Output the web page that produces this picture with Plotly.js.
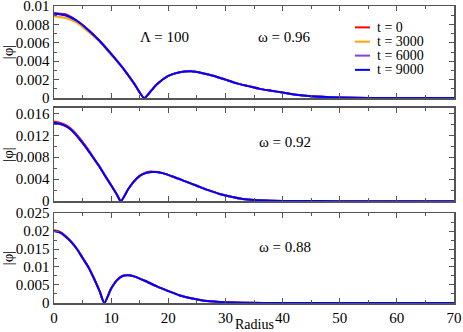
<!DOCTYPE html>
<html>
<head>
<meta charset="utf-8">
<script src="https://cdn.plot.ly/plotly-3.0.1.min.js"></script>
<style>
  html, body { margin: 0; padding: 0; background: #fff; }
  #plot { width: 463px; height: 332px; }
</style>
</head>
<body>
<div id="plot"></div>
<script>
// times shown in the legend
const times = ['t = 0', 't = 3000', 't = 6000', 't = 9000'];
const colors = ['#ff0000', '#ffa500', '#8c3fd8', '#0000ff'];

// omega = 0.96 (top panel)
const rTop = [0, 2, 4, 6, 8, 10, 12, 14, 15.8, 17, 18, 20, 22, 24, 26, 28, 30, 32, 34, 36, 38, 40, 42, 45, 50, 55, 60, 70];
const topT0    = [0.0092, 0.0091, 0.0084, 0.0074, 0.0062, 0.0048, 0.0033, 0.0016, 0, 0.0008, 0.0015, 0.0024, 0.0028, 0.0029, 0.0027, 0.0024, 0.0020, 0.0016, 0.0013, 0.0010, 0.0008, 0.0006, 0.0004, 0.0002, 0.00007, 0.00002, 0, 0];
const topT3000 = [0.0089, 0.0087, 0.0082, 0.0072, 0.0061, 0.0047, 0.0033, 0.0016, 0, 0.0008, 0.0015, 0.0024, 0.0028, 0.0029, 0.0027, 0.0024, 0.0020, 0.0016, 0.0013, 0.0010, 0.0008, 0.0006, 0.0004, 0.0002, 0.00007, 0.00002, 0, 0];
const topT6000 = [0.0092, 0.0090, 0.0084, 0.0074, 0.0062, 0.0048, 0.0033, 0.0016, 0, 0.0008, 0.0015, 0.0024, 0.0028, 0.0029, 0.0027, 0.0024, 0.0020, 0.0016, 0.0013, 0.0010, 0.0008, 0.0006, 0.0004, 0.0002, 0.00007, 0.00002, 0, 0];
const topT9000 = [0.0092, 0.0090, 0.0084, 0.0074, 0.0062, 0.0048, 0.0033, 0.0016, 0, 0.0008, 0.0015, 0.0024, 0.0028, 0.0029, 0.0027, 0.0024, 0.0020, 0.0016, 0.0013, 0.0010, 0.0008, 0.0006, 0.0004, 0.0002, 0.00007, 0.00002, 0, 0];

// omega = 0.92 (middle panel)
const rMid = [0, 1, 2, 3, 4, 5, 6, 7, 8, 9, 10, 11, 11.7, 13, 14, 15, 16, 17, 18, 19, 21, 23, 25, 27, 29, 31, 33, 35, 38, 42, 50, 70];
const midT0    = [0.0145, 0.0143, 0.0139, 0.0132, 0.0121, 0.0108, 0.0094, 0.0078, 0.0063, 0.0046, 0.0029, 0.0012, 0, 0.0022, 0.0036, 0.0046, 0.0052, 0.0054, 0.0053, 0.0051, 0.0044, 0.0036, 0.0028, 0.0020, 0.0013, 0.0008, 0.0004, 0.0002, 0.00008, 0.00002, 0, 0];
const midT3000 = [0.0143, 0.0141, 0.0137, 0.0130, 0.0119, 0.0106, 0.0092, 0.0077, 0.0062, 0.0045, 0.0029, 0.0012, 0, 0.0022, 0.0036, 0.0046, 0.0051, 0.0053, 0.0053, 0.0051, 0.0044, 0.0036, 0.0028, 0.0020, 0.0013, 0.0008, 0.0004, 0.0002, 0.00008, 0.00002, 0, 0];
const midT6000 = [0.0143, 0.0141, 0.0137, 0.0130, 0.0119, 0.0106, 0.0092, 0.0077, 0.0062, 0.0045, 0.0029, 0.0012, 0, 0.0022, 0.0036, 0.0046, 0.0051, 0.0053, 0.0053, 0.0051, 0.0044, 0.0036, 0.0028, 0.0020, 0.0013, 0.0008, 0.0004, 0.0002, 0.00008, 0.00002, 0, 0];
const midT9000 = [0.0143, 0.0141, 0.0137, 0.0130, 0.0119, 0.0106, 0.0092, 0.0077, 0.0062, 0.0045, 0.0029, 0.0012, 0, 0.0022, 0.0036, 0.0046, 0.0051, 0.0053, 0.0053, 0.0051, 0.0044, 0.0036, 0.0028, 0.0020, 0.0013, 0.0008, 0.0004, 0.0002, 0.00008, 0.00002, 0, 0];

// omega = 0.88 (bottom panel)
const rBot = [0, 1, 2, 3, 4, 5, 6, 7, 8, 8.8, 10, 11, 12, 13, 14, 16, 18, 20, 22, 24, 26, 28, 30, 33, 40, 70];
const botT0    = [0.0202, 0.0198, 0.0187, 0.0171, 0.0151, 0.0126, 0.0100, 0.0068, 0.0032, 0, 0.0040, 0.0064, 0.0076, 0.0078, 0.0074, 0.0061, 0.0046, 0.0033, 0.0021, 0.0013, 0.0007, 0.0004, 0.0002, 0.00006, 0, 0];
const botT3000 = [0.0200, 0.0196, 0.0185, 0.0170, 0.0150, 0.0125, 0.0100, 0.0068, 0.0032, 0, 0.0040, 0.0063, 0.0075, 0.0077, 0.0074, 0.0061, 0.0046, 0.0033, 0.0021, 0.0013, 0.0007, 0.0004, 0.0002, 0.00006, 0, 0];
const botT6000 = [0.0200, 0.0196, 0.0185, 0.0170, 0.0150, 0.0125, 0.0100, 0.0068, 0.0032, 0, 0.0040, 0.0063, 0.0075, 0.0077, 0.0074, 0.0061, 0.0046, 0.0033, 0.0021, 0.0013, 0.0007, 0.0004, 0.0002, 0.00006, 0, 0];
const botT9000 = [0.0200, 0.0196, 0.0185, 0.0170, 0.0150, 0.0125, 0.0100, 0.0068, 0.0032, 0, 0.0040, 0.0063, 0.0075, 0.0077, 0.0074, 0.0061, 0.0046, 0.0033, 0.0021, 0.0013, 0.0007, 0.0004, 0.0002, 0.00006, 0, 0];

const FONT = 'Liberation Serif, Times New Roman, serif';
const AX = '#555';
const txt = (size) => ({ family: FONT, size: size, color: '#000' });

const panels = [
  { r: rTop, ys: [topT0, topT3000, topT6000, topT9000], xa: 'x3', ya: 'y3' },
  { r: rMid, ys: [midT0, midT3000, midT6000, midT9000], xa: 'x2', ya: 'y2' },
  { r: rBot, ys: [botT0, botT3000, botT6000, botT9000], xa: 'x',  ya: 'y'  },
];

const traces = [];
panels.forEach(p => {
  p.ys.forEach((y, i) => {
    traces.push({
      x: p.r, y: y,
      xaxis: p.xa, yaxis: p.ya,
      type: 'scatter', mode: 'lines',
      name: times[i],
      showlegend: false,
      line: { color: colors[i], width: 2, shape: 'spline', smoothing: 0.6 },
      hoverinfo: 'skip',
    });
  });
});

function xAxis(anchor, labels) {
  return {
    anchor: anchor, range: [0, 70], dtick: 10, tick0: 0,
    showticklabels: labels,
    ticks: 'inside', ticklen: 5, tickwidth: 1, tickcolor: AX,
    minor: { ticks: 'inside', ticklen: 3, dtick: 5, tickcolor: AX },
    showline: true, linecolor: AX, linewidth: 1.5, mirror: 'ticks',
    showgrid: false, zeroline: false,
    ticklabeloverflow: 'allow',
    tickfont: txt(15),
  };
}

function yAxis(domain, range, dtick) {
  return {
    domain: domain, range: range, dtick: dtick, tick0: 0,
    ticks: 'inside', ticklen: 5, tickwidth: 1, tickcolor: AX,
    minor: { ticks: 'inside', ticklen: 3, dtick: dtick / 2, tickcolor: AX },
    showline: true, linecolor: AX, linewidth: 1.5, mirror: 'ticks',
    showgrid: false, zeroline: false,
    ticklabeloverflow: 'allow',
    tickfont: txt(15),
    title: { text: '|φ|', font: txt(15), standoff: 5 },
  };
}

// hand-made legend in the top panel (native legend rows are too tall)
const legX0 = 0.7525, legX1 = 0.79, legTextX = 0.8025;
const legY = [0.928, 0.880, 0.833, 0.785];
const legendShapes = times.map((t, i) => ({
  type: 'line', xref: 'paper', yref: 'paper',
  x0: legX0, x1: legX1, y0: legY[i], y1: legY[i],
  line: { color: colors[i], width: 2 },
}));
const legendLabels = times.map((t, i) => ({
  xref: 'paper', yref: 'paper', x: legTextX, y: legY[i],
  xanchor: 'left', yanchor: 'middle', text: t, showarrow: false, font: txt(14),
}));

const layout = {
  width: 463, height: 332,
  margin: { l: 54, r: 9, t: 6, b: 29 },
  paper_bgcolor: '#fff', plot_bgcolor: '#fff',
  showlegend: false,
  xaxis: xAxis('y', true),
  xaxis2: xAxis('y2', false),
  xaxis3: xAxis('y3', false),
  yaxis: yAxis([0, 0.303], [0, 0.025], 0.005),
  yaxis2: yAxis([0.343, 0.657], [0, 0.017], 0.004),
  yaxis3: yAxis([0.690, 1], [0, 0.0100001], 0.002),
  shapes: legendShapes,
  annotations: [
    { xref: 'x3', yref: 'y3 domain', x: 19.4, y: 0.77, text: 'Λ = 100', showarrow: false, font: txt(15) },
    { xref: 'x3', yref: 'y3 domain', x: 40.4, y: 0.77, text: 'ω = 0.96', showarrow: false, font: txt(15) },
    { xref: 'x2', yref: 'y2 domain', x: 40.4, y: 0.745, text: 'ω = 0.92', showarrow: false, font: txt(15) },
    { xref: 'x', yref: 'y domain', x: 40.4, y: 0.73, text: 'ω = 0.88', showarrow: false, font: txt(15) },
    { xref: 'paper', yref: 'paper', x: 0.5, y: -0.0724, yanchor: 'middle', text: 'Radius', showarrow: false, font: txt(14) },
  ].concat(legendLabels),
};

Plotly.newPlot('plot', traces, layout, { displayModeBar: false, staticPlot: true });
</script>
</body>
</html>
